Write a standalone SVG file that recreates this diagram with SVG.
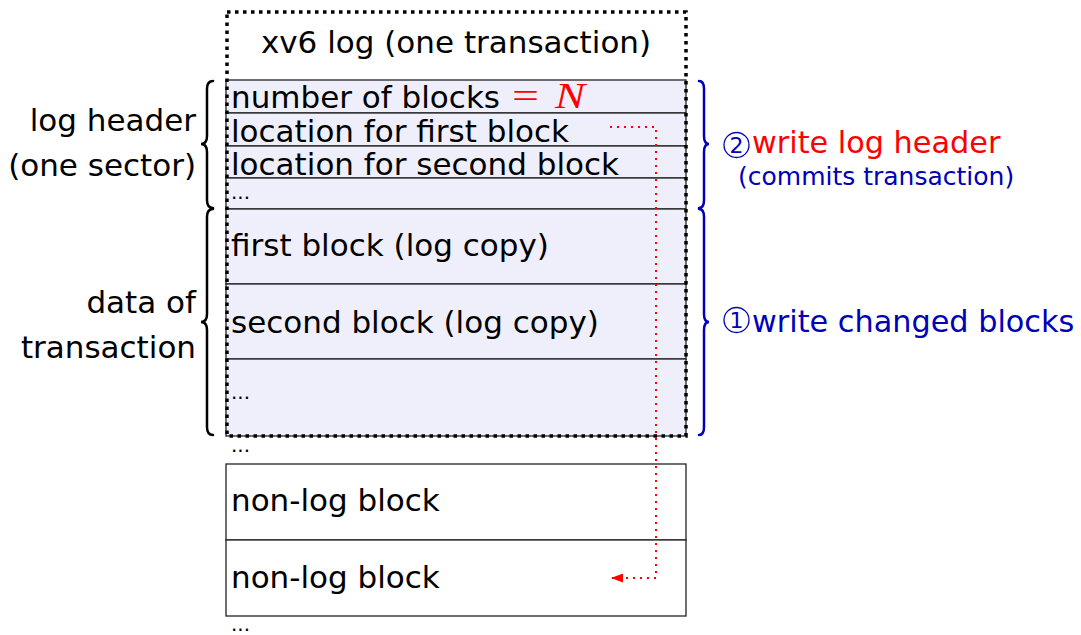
<svg xmlns="http://www.w3.org/2000/svg" width="1081" height="635" viewBox="0 0 1081 635">
<style>
text{font-family:"DejaVu Sans","Liberation Sans",sans-serif;font-size:31px;fill:#000}
.dots{font-size:20px}
.num{font-size:22px}
.big{font-size:30.3px}
.small{font-size:25px}
.math{font-family:"Liberation Serif",serif;font-size:36px}
.row{fill:#efeffc;stroke:#222;stroke-width:1.3}
.plain{fill:#fff;stroke:#222;stroke-width:1.3}
.blue{fill:#0000b8}
.red{fill:#ff0000}
.brace{fill:none;stroke-width:2.5;stroke-linecap:round}
</style>
<defs>
<marker id="ah" markerWidth="12" markerHeight="9" refX="11" refY="4.5" orient="auto" markerUnits="userSpaceOnUse">
<path d="M0,0 L12,4.5 L0,9 Z" fill="#ff0000"/>
</marker>
</defs>
<g id="log-region">
<rect x="226" y="12" width="461" height="424" fill="#fff" stroke="none"/>
<text x="456" y="53" text-anchor="middle">xv6 log (one transaction)</text>
</g>
<g id="header-rows">
<rect class="row" x="226" y="80" width="460" height="33"/>
<rect class="row" x="226" y="113" width="460" height="33"/>
<rect class="row" x="226" y="146" width="460" height="32"/>
<rect class="row" x="226" y="178" width="460" height="31"/>
<text x="231" y="108">number of blocks<tspan class="red math" x="512" textLength="27" lengthAdjust="spacingAndGlyphs">=</tspan><tspan class="red math" x="555" font-style="italic" textLength="30" lengthAdjust="spacingAndGlyphs">N</tspan></text>
<text x="231" y="142">location for first block</text>
<text x="231" y="175">location for second block</text>
<text x="231" y="199" class="dots">...</text>
</g>
<g id="data-rows">
<rect class="row" x="226" y="209" width="460" height="75"/>
<rect class="row" x="226" y="284" width="460" height="75"/>
<rect class="row" x="226" y="359" width="460" height="77"/>
<text x="231" y="256">first block (log copy)</text>
<text x="231" y="333">second block (log copy)</text>
<text x="231" y="399" class="dots">...</text>
</g>
<g id="log-border">
<rect x="227" y="12" width="459" height="424" fill="none" stroke="#000" stroke-width="3.5" stroke-dasharray="3.5,4.5"/>
</g>
<g id="nonlog">
<text x="231" y="452" class="dots">...</text>
<rect class="plain" x="226" y="464" width="460" height="76"/>
<rect class="plain" x="226" y="540" width="460" height="76"/>
<text x="231" y="511">non-log block</text>
<text x="231" y="588">non-log block</text>
<text x="231" y="631" class="dots">...</text>
</g>
<g id="left-labels">
<text x="196" y="131" text-anchor="end">log header</text>
<text x="196" y="176" text-anchor="end">(one sector)</text>
<text x="196" y="313" text-anchor="end">data of</text>
<text x="196" y="358" text-anchor="end">transaction</text>
<path class="brace" stroke="#000" d="M213,81 Q207,81 207,89 L207,136 Q207,144 201,144 Q207,144 207,152 L207,200 Q207,208 213,208"/>
<path class="brace" stroke="#000" d="M213,209 Q207,209 207,217 L207,314 Q207,322 201,322 Q207,322 207,330 L207,427 Q207,435 213,435"/>
</g>
<g id="right-labels">
<path class="brace" stroke="#0000b8" d="M699,81 Q704,81 704,89 L704,136 Q704,144 709,144 Q704,144 704,152 L704,200 Q704,208 699,208"/>
<path class="brace" stroke="#0000b8" d="M699,209 Q704,209 704,217 L704,314 Q704,322 709,322 Q704,322 704,330 L704,427 Q704,435 699,435"/>
<circle cx="736.5" cy="145" r="12.5" fill="none" stroke="#0000b8" stroke-width="1.3"/>
<text x="736.5" y="153" class="blue num" text-anchor="middle">2</text>
<text x="752" y="153" class="red big">write log header</text>
<text x="738" y="185" class="blue small">(commits transaction)</text>
<circle cx="736.5" cy="320" r="12.5" fill="none" stroke="#0000b8" stroke-width="1.3"/>
<text x="736.5" y="328" class="blue num" text-anchor="middle">1</text>
<text x="752" y="332" class="blue big">write changed blocks</text>
</g>
<g id="connectors">
<path d="M610,127 L656,127 L656,578 L612,578" fill="none" stroke="#ff0000" stroke-width="2" stroke-dasharray="2,5" marker-end="url(#ah)"/>
</g>
</svg>
